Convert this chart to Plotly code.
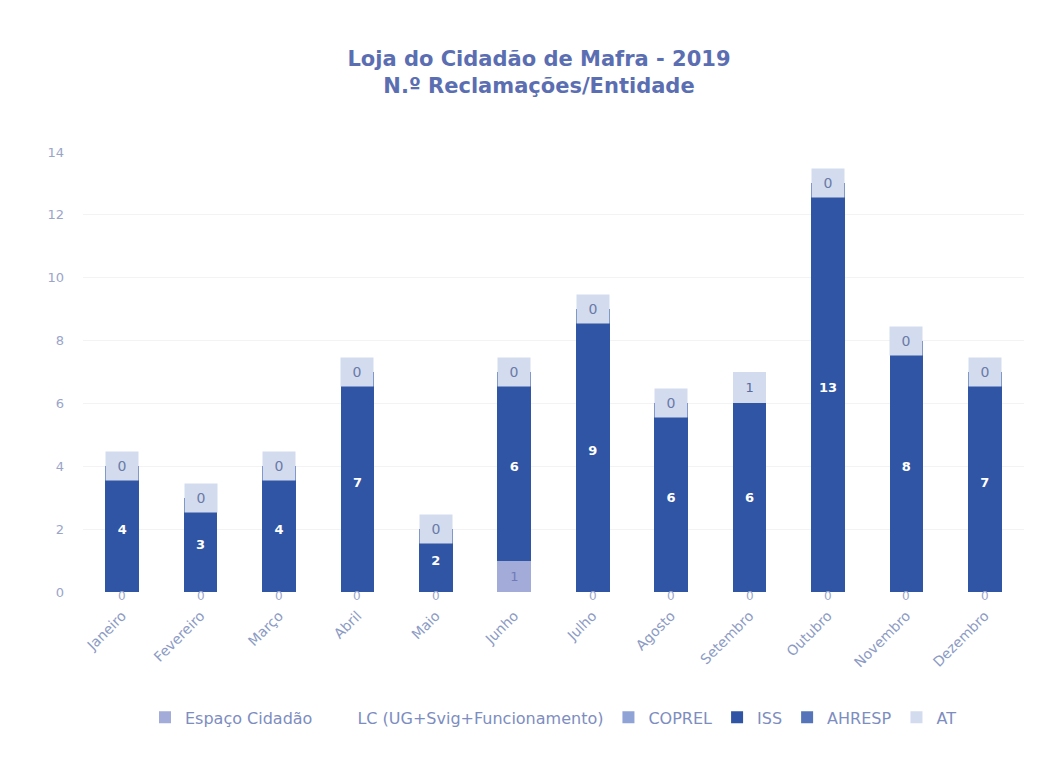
import plotly.graph_objects as go

months = ["Janeiro", "Fevereiro", "Março", "Abril", "Maio", "Junho", "Julho",
          "Agosto", "Setembro", "Outubro", "Novembro", "Dezembro"]

espaco_cidadao = [0, 0, 0, 0, 0, 1, 0, 0, 0, 0, 0, 0]
lc = [0, 0, 0, 0, 0, 0, 0, 0, 0, 0, 0, 0]
coprel = [0, 0, 0, 0, 0, 0, 0, 0, 0, 0, 0, 0]
iss = [4, 3, 4, 7, 2, 6, 9, 6, 6, 13, 8, 7]
ahresp = [0, 0, 0, 0, 0, 0, 0, 0, 0, 0, 0, 0]
at = [0, 0, 0, 0, 0, 0, 0, 0, 1, 0, 0, 0]

series = [
    ("Espaço Cidadão", espaco_cidadao, "#a3abd9", "#6f7bb8"),
    ("LC (UG+Svig+Funcionamento)", lc, "rgba(255,255,255,0)", "#6f7bb8"),
    ("COPREL", coprel, "#8fa3d6", "white"),
    ("ISS", iss, "#2f55a4", "white"),
    ("AHRESP", ahresp, "#5674b9", "white"),
    ("AT", at, "#d3dbee", "#5a6aa0"),
]

FONT = "DejaVu Sans"

fig = go.Figure()
for name, vals, color, tcolor in series:
    fig.add_trace(go.Bar(
        x=months, y=vals, name=name,
        marker=dict(color=color, line=dict(width=0)),
        text=[f"<b>{v}</b>" if v and name == "ISS" else (str(v) if v else "") for v in vals],
        textposition="inside", insidetextanchor="middle",
        textfont=dict(color=tcolor, size=13, family=FONT),
        textangle=0,
    ))

totals = [sum(t) for t in zip(espaco_cidadao, lc, coprel, iss, ahresp, at)]

annotations = []
# zero labels of the top series (AT) sit in a small box on top of each bar
for m, a, tot in zip(months, at, totals):
    if a == 0:
        annotations.append(dict(
            x=m, y=tot, xref="x", yref="y", text="0", showarrow=False,
            yanchor="middle", bgcolor="#d3dbee", width=30, height=26,
            font=dict(color="#6a7aa8", size=14, family=FONT),
        ))
# zero labels of the bottom series (Espaço Cidadão) at the baseline
for m, e in zip(months, espaco_cidadao):
    if e == 0:
        annotations.append(dict(
            x=m, y=0, xref="x", yref="y", text="0", showarrow=False,
            yanchor="middle", yshift=-4,
            font=dict(color="#9aa5c9", size=12, family=FONT),
        ))

fig.update_layout(
    width=1062, height=784,
    barmode="stack", bargap=0.57,
    paper_bgcolor="white", plot_bgcolor="white",
    margin=dict(l=75, r=46, t=144, b=200),
    title=dict(
        text="<b>Loja do Cidadão de Mafra - 2019<br>N.º Reclamações/Entidade</b>",
        x=0.5, xanchor="center", y=0.926, yanchor="middle",
        font=dict(family=FONT, size=21, color="#5b6eb2"),
    ),
    font=dict(family=FONT, color="#8c9bc4"),
    legend=dict(
        orientation="h", x=0.5, xanchor="center", y=-0.285, yanchor="middle",
        font=dict(size=16, color="#7d8dc0", family=FONT),
        traceorder="normal", itemwidth=30,
    ),
    annotations=annotations,
    showlegend=True,
)
fig.update_xaxes(
    tickangle=-45, tickfont=dict(size=14, color="#8c9bc4"),
    showgrid=False, showline=False, ticks="", ticklabelstandoff=12,
)
fig.update_yaxes(
    range=[0, 14], dtick=2, tickfont=dict(size=13, color="#9aa5c9"),
    showgrid=True, gridcolor="#f3f3f3", zeroline=False, ticks="",
    ticklabelstandoff=18,
)

fig.write_html("out.html")
